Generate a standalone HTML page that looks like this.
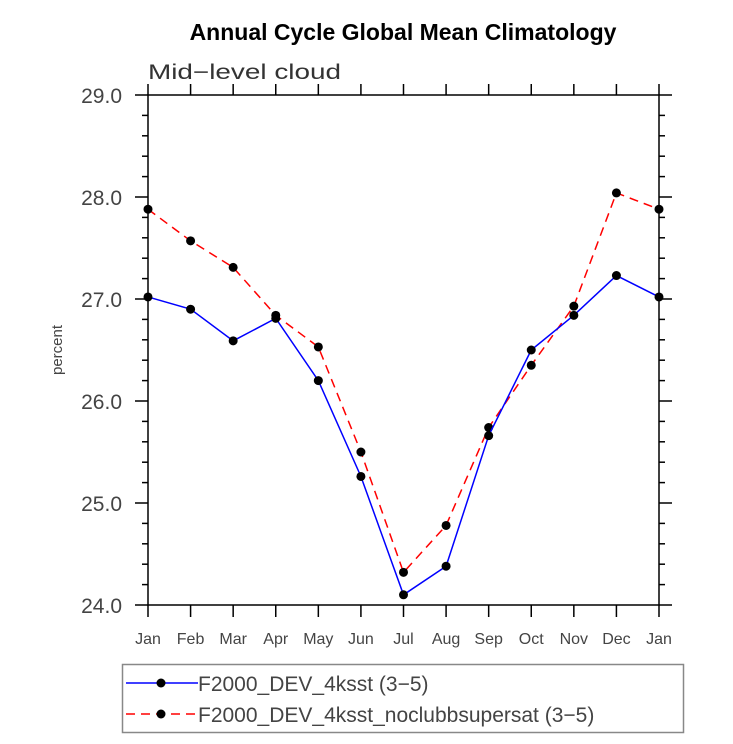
<!DOCTYPE html>
<html><head><meta charset="utf-8"><style>
body{margin:0;background:#fff;width:733px;height:739px;overflow:hidden}
text{font-family:"Liberation Sans",sans-serif}
</style></head><body>
<svg id="chart" width="733" height="739" xmlns="http://www.w3.org/2000/svg">
<text x="403" y="40" text-anchor="middle" font-size="23" font-weight="bold">Annual Cycle Global Mean Climatology</text>
<text x="148" y="79" font-size="21" fill="#333" textLength="193" lengthAdjust="spacingAndGlyphs">Mid−level cloud</text>
<text transform="translate(62,350) rotate(-90)" text-anchor="middle" font-size="15" fill="#444">percent</text>
<g id="axes"></g>
<g id="series"></g>
<g>
<rect x="122.5" y="664.5" width="561" height="68" fill="none" stroke="#888" stroke-width="1.5"/>
<g>
<line x1="126" y1="683" x2="198" y2="683" stroke="#0000ff" stroke-width="1.5"/>
<circle cx="161" cy="683" r="4.5" fill="#000"/>
<text x="198" y="691" font-size="21" fill="#444">F2000_DEV_4ksst (3−5)</text></g>
<g>
<line x1="126" y1="714" x2="198" y2="714" stroke="#ff0000" stroke-width="1.5" stroke-dasharray="9,6"/>
<circle cx="161" cy="714" r="4.5" fill="#000"/>
<text x="198" y="722" font-size="21" fill="#444">F2000_DEV_4ksst_noclubbsupersat (3−5)</text></g>
</g>
</svg>
<script>
const months=["Jan","Feb","Mar","Apr","May","Jun","Jul","Aug","Sep","Oct","Nov","Dec","Jan"];
const blueVals=[27.02,26.90,26.59,26.81,26.20,25.26,24.10,24.38,25.66,26.50,26.84,27.23,27.02];
const redVals=[27.88,27.57,27.31,26.84,26.53,25.50,24.32,24.78,25.74,26.35,26.93,28.04,27.88];
const yTicks=["24.0","25.0","26.0","27.0","28.0","29.0"];
const X0=148,X1=659,Y0=605,Y1=95,YMIN=24,YMAX=29;
const xs=i=>X0+(X1-X0)*i/(months.length-1);
const ys=v=>Y0-(v-YMIN)/(YMAX-YMIN)*(Y0-Y1);
const NS="http://www.w3.org/2000/svg";
function mk(parent,tag,attrs){const e=document.createElementNS(NS,tag);for(const k in attrs)e.setAttribute(k,attrs[k]);parent.appendChild(e);return e;}
const ax=document.getElementById('axes');
const frame=mk(ax,'rect',{x:X0,y:Y1,width:X1-X0,height:Y0-Y1,fill:'none',stroke:'#000','stroke-width':1.5});


months.forEach((m,i)=>{const x=xs(i);
 mk(ax,'line',{x1:x,y1:Y0,x2:x,y2:Y0+12,stroke:'#000','stroke-width':1.5});
 mk(ax,'line',{x1:x,y1:Y1,x2:x,y2:Y1-11,stroke:'#000','stroke-width':1.5});
 const t=mk(ax,'text',{x:x,y:Y0+39,'text-anchor':'middle','font-size':16,fill:'#444'});
 t.textContent=m;
 
 
});
for(let k=0;k<=25;k++){const v=YMIN+k*0.2,y=ys(v),major=k%5===0;const L=major?13:6;
 mk(ax,'line',{x1:X0-L,y1:y,x2:X0,y2:y,stroke:'#000','stroke-width':1.5});
 mk(ax,'line',{x1:X1,y1:y,x2:X1+L,y2:y,stroke:'#000','stroke-width':1.5});}
yTicks.forEach(s=>{const y=ys(parseFloat(s));
 const t=mk(ax,'text',{x:122,y:y+8,'text-anchor':'end','font-size':21,fill:'#444'});
 t.textContent=s;
 
 
});
const sg=document.getElementById('series');
function drawSeries(vals,color,dash,name){
 const g=mk(sg,'g',{});
 
 
 const a={points:vals.map((v,i)=>xs(i)+','+ys(v)).join(' '),fill:'none',stroke:color,'stroke-width':1.5};
 if(dash)a['stroke-dasharray']=dash;
 const pl=mk(g,'polyline',a);
 
 
 vals.forEach((v,i)=>{const c=mk(g,'circle',{cx:xs(i),cy:ys(v),r:4.5,fill:'#000'});
  
  });
}
drawSeries(redVals,'#ff0000','9,6','series-noclubbsupersat');
drawSeries(blueVals,'#0000ff',null,'series-4ksst');
</script>
</body></html>
